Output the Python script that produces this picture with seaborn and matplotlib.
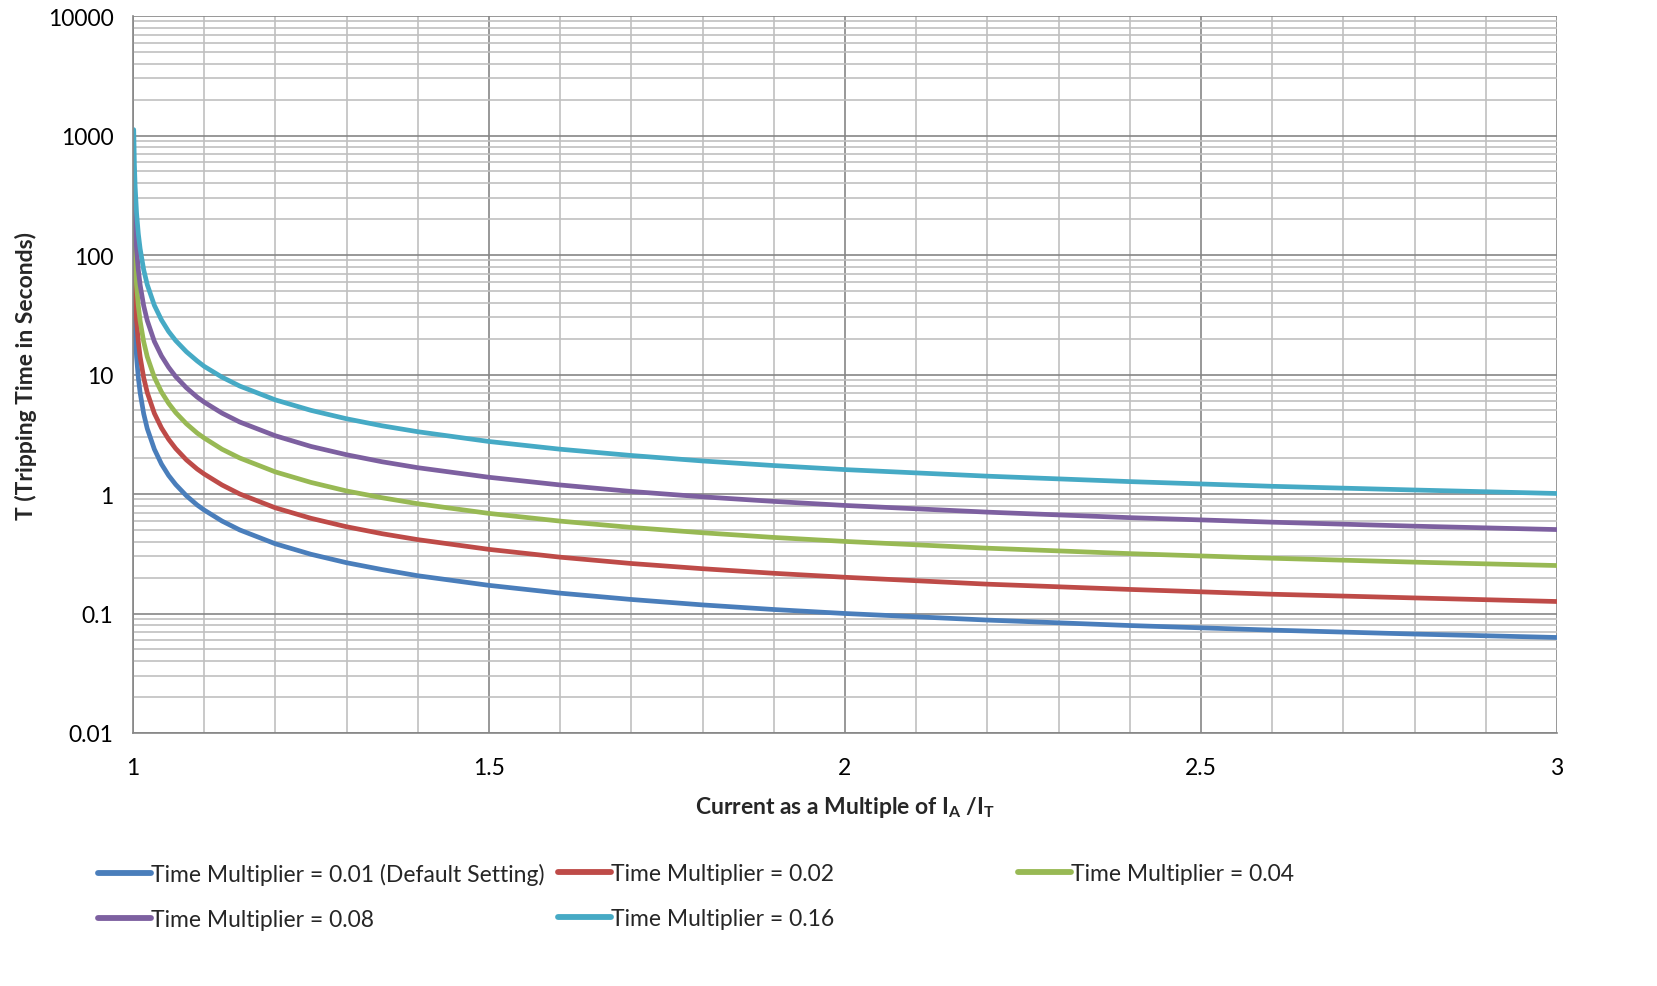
import numpy as np
import pandas as pd
import matplotlib
matplotlib.use("Agg")
import matplotlib.pyplot as plt
import seaborn as sns
from matplotlib.ticker import FixedLocator, NullFormatter, FuncFormatter
from matplotlib.lines import Line2D

# Data
current = [1.001, 1.002, 1.003, 1.005, 1.0075, 1.01, 1.015, 1.02, 1.03, 1.04, 1.05,
           1.06, 1.075, 1.09, 1.1, 1.125, 1.15, 1.2, 1.25, 1.3, 1.35, 1.4, 1.5, 1.6, 1.7, 1.8,
           1.9, 2.0, 2.2, 2.4, 2.6, 2.8, 3.0]
tm_001 = [70.0, 35.0, 23.4, 14.0, 9.37, 7.04, 4.70, 3.53, 2.37, 1.78, 1.43,
          1.20, 0.967, 0.81, 0.734, 0.594, 0.500, 0.383, 0.313, 0.266, 0.233, 0.207, 0.172, 0.148, 0.131, 0.118,
          0.108, 0.100, 0.0881, 0.0793, 0.0726, 0.0673, 0.0630]
tm_002 = [140, 70.0, 46.7, 28.1, 18.7, 14.1, 9.40, 7.07, 4.73, 3.57, 2.87,
          2.40, 1.93, 1.62, 1.47, 1.19, 1.00, 0.766, 0.626, 0.532, 0.465, 0.415, 0.344, 0.296, 0.262, 0.237,
          0.217, 0.201, 0.176, 0.159, 0.145, 0.135, 0.126]
tm_004 = [280, 140, 93.5, 56.1, 37.5, 28.1, 18.8, 14.1, 9.47, 7.14, 5.74,
          4.80, 3.87, 3.24, 2.94, 2.37, 2.00, 1.53, 1.25, 1.06, 0.930, 0.829, 0.688, 0.593, 0.525, 0.474,
          0.433, 0.401, 0.352, 0.317, 0.290, 0.269, 0.252]
tm_008 = [560, 280, 187, 112, 75.0, 56.3, 37.6, 28.3, 18.9, 14.3, 11.5,
          9.60, 7.74, 6.48, 5.87, 4.75, 4.00, 3.07, 2.50, 2.13, 1.86, 1.66, 1.38, 1.19, 1.05, 0.947,
          0.867, 0.802, 0.705, 0.634, 0.581, 0.538, 0.504]
tm_016 = [1120, 560, 374, 224, 150, 113, 75.2, 56.5, 37.9, 28.6, 22.9,
          19.2, 15.5, 13.0, 11.7, 9.50, 8.00, 6.13, 5.01, 4.26, 3.72, 3.32, 2.75, 2.37, 2.10, 1.89,
          1.73, 1.60, 1.41, 1.27, 1.16, 1.08, 1.01]
labels = ["Time Multiplier = 0.01 (Default Setting)", "Time Multiplier = 0.02",
          "Time Multiplier = 0.04", "Time Multiplier = 0.08", "Time Multiplier = 0.16"]
colors = ["#4a7ebb", "#be4b48", "#98b954", "#7d60a0", "#46aac5"]
y_ticks = [0.01, 0.1, 1, 10, 100, 1000, 10000]
y_tick_labels = ["0.01", "0.1", "1", "10", "100", "1000", "10000"]
x_ticks = [1, 1.5, 2, 2.5, 3]
x_tick_labels = ["1", "1.5", "2", "2.5", "3"]

frames = []
for lab, vals in zip(labels, [tm_001, tm_002, tm_004, tm_008, tm_016]):
    frames.append(pd.DataFrame({"I": current, "T": vals, "series": lab}))
df = pd.concat(frames, ignore_index=True)

sns.set_theme(style="white")
plt.rcParams["font.family"] = ["Lato", "DejaVu Sans"]
plt.rcParams["mathtext.fontset"] = "custom"
plt.rcParams["mathtext.rm"] = "Lato:bold"
plt.rcParams["mathtext.bf"] = "Lato:bold"

W, H = 1658, 987
fig = plt.figure(figsize=(W / 100, H / 100), dpi=100)
ax = fig.add_axes([133 / W, 1 - 734 / H, (1557 - 133) / W, (734 - 17) / H])

sns.lineplot(data=df, x="I", y="T", hue="series", palette=colors, hue_order=labels,
             linewidth=3.4, ax=ax, legend=False)
for ln in ax.get_lines():
    ln.set_solid_capstyle("round")
    ln.set_solid_joinstyle("round")
ax.set_yscale("log")
ax.set_xlim(1, 3)
ax.set_ylim(0.01, 10000)

ax.yaxis.set_major_locator(FixedLocator(y_ticks))
ax.yaxis.set_major_formatter(FuncFormatter(lambda v, p: y_tick_labels[y_ticks.index(v)] if v in y_ticks else ""))
minor_y = [m * 10.0 ** e for e in range(-2, 4) for m in range(2, 10)]
ax.yaxis.set_minor_locator(FixedLocator(minor_y))
ax.yaxis.set_minor_formatter(NullFormatter())
ax.xaxis.set_major_locator(FixedLocator(x_ticks))
ax.set_xticklabels(x_tick_labels)
ax.xaxis.set_minor_locator(FixedLocator(np.arange(1.1, 3.0, 0.1)))

ax.grid(True, which="major", color="#868686", linewidth=1.2)
ax.grid(True, which="minor", color="#c0c0c0", linewidth=1.2)
ax.set_axisbelow(True)
for s in ["top", "right"]:
    ax.spines[s].set_visible(False)
for s in ["left", "bottom"]:
    ax.spines[s].set_color("#868686")
    ax.spines[s].set_linewidth(1.2)
ax.tick_params(axis="both", which="both", length=0, labelsize=16.5, colors="black", pad=14)
ax.tick_params(axis="x", pad=17)

ax.set_ylabel("T (Tripping Time in Seconds)", fontsize=16.5, fontweight="bold", labelpad=8)
ax.set_xlabel(r"Current as a Multiple of I$_\mathregular{A}$ /I$_\mathregular{T}$",
              fontsize=16.5, fontweight="bold", labelpad=12)

# Legend: three fixed-position columns, filled row-wise like the reference
handles = [Line2D([], [], color=c, linewidth=4.2, solid_capstyle="round") for c in colors]
columns = [[0, 3], [1, 4], [2]]
col_x = [98, 558, 1018]
for cx, idxs in zip(col_x, columns):
    fig.legend([handles[i] for i in idxs], [labels[i] for i in idxs],
               loc="upper left", bbox_to_anchor=(cx / W, 1 - 864 / H),
               frameon=False, fontsize=16.5, handlelength=2.3,
               handletextpad=0.0, labelspacing=1.05, borderpad=0, borderaxespad=0)

fig.savefig("out.png", dpi=100)
